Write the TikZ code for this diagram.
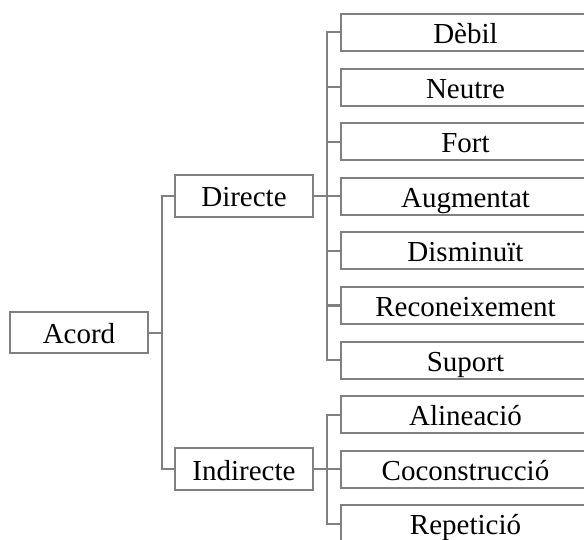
\documentclass[tikz,border=0pt]{standalone}
\usepackage{fontspec}
\setmainfont{Liberation Serif}
\definecolor{lgray}{RGB}{128,128,128}
\begin{document}
\begin{tikzpicture}[x=1pt,y=-1pt,
  box/.style={draw=lgray,line width=2pt,fill=white,inner sep=0pt,
    text height=24pt,text depth=2pt,font=\fontsize{29}{34}\selectfont},
  leaf/.style={box,minimum width=249pt,minimum height=37pt},
  mid/.style={box,minimum width=138pt,minimum height=42pt},
  conn/.style={draw=lgray,line width=2pt}]
\useasboundingbox (0,0) rectangle (584,540);
\clip (0,0) rectangle (584,540);
\node[box,minimum width=138pt,minimum height=41pt] (acord) at (79,332.5) {Acord};
\node[mid] (dir) at (244,196) {Directe};
\node[mid] (ind) at (244,469) {Indirecte};
\foreach \n/\t [count=\i from 0] in {a/Dèbil,b/Neutre,c/Fort,d/Augmentat,e/Disminuït,f/Reconeixement,g/Suport,h/Alineació,k/Coconstrucció,l/Repetició}{
  \node[leaf] (\n) at (465.5,{32.5+54.6*\i}) {\t};
}
% Acord connectors
\coordinate (j0) at (162,332.5);
\draw[conn] (acord.east) -- (j0);
\draw[conn] (dir.west) -| (j0) |- (ind.west);
% Directe connectors
\coordinate (j1) at (327,196);
\draw[conn] (dir.east) -- (j1);
\foreach \n in {a,b,c,d,e,f,g}{\draw[conn] (\n.west) -| (j1);}
% Indirecte connectors
\coordinate (j2) at (327,469);
\draw[conn] (ind.east) -- (j2);
\foreach \n in {h,k,l}{\draw[conn] (\n.west) -| (j2);}
\end{tikzpicture}
\end{document}
